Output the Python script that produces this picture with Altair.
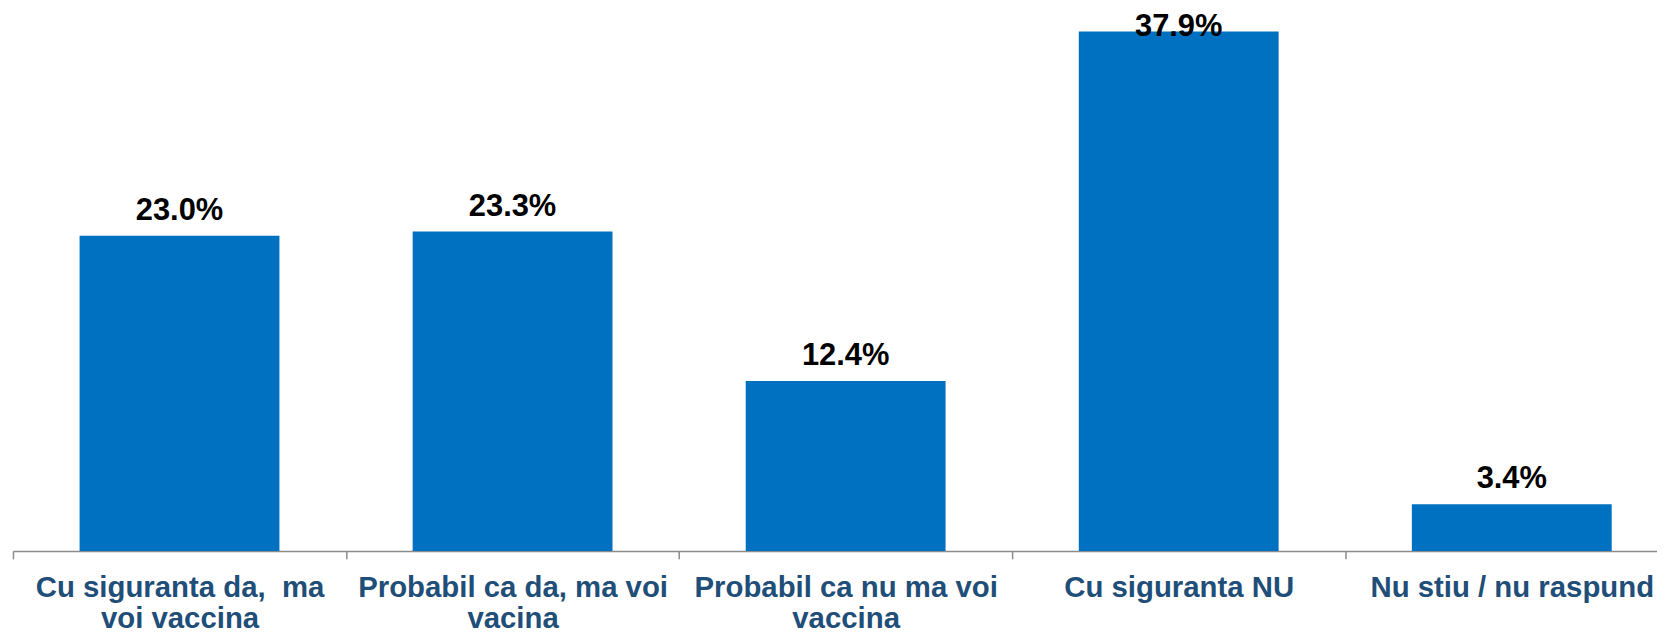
import json
import altair as alt
import pandas as pd

categories = [
    "Cu siguranta da,\u00a0 ma voi vaccina",
    "Probabil ca da, ma voi vacina",
    "Probabil ca nu ma voi vaccina",
    "Cu siguranta NU",
    "Nu stiu / nu raspund",
]
label_lines = [
    ["Cu siguranta da,\u00a0 ma", "voi vaccina"],
    ["Probabil ca da, ma voi", "vacina"],
    ["Probabil ca nu ma voi", "vaccina"],
    ["Cu siguranta NU"],
    ["Nu stiu / nu raspund"],
]
values = [23.0, 23.3, 12.4, 37.9, 3.4]
labels = ["23.0%", "23.3%", "12.4%", "37.9%", "3.4%"]
positions = [0, 1, 2, 3, 4]
tick_positions = [-0.5, 0.5, 1.5, 2.5, 3.5]

df = pd.DataFrame({"i": positions, "cat": categories, "v": values, "lab": labels})

x_scale = alt.Scale(domain=[-0.5, 4.436], nice=False, zero=False)
y_scale = alt.Scale(domain=[0, 39.5], nice=False)

FONT = "Liberation Sans"

tick_axis = alt.Axis(
    title=None,
    values=tick_positions,
    labels=False,
    grid=False,
    tickSize=8,
    tickWidth=1.5,
    tickColor="#8C8C8C",
    domainColor="#8C8C8C",
    domainWidth=1.5,
    orient="bottom",
)

label_axis = alt.Axis(
    title=None,
    values=positions,
    labelExpr=json.dumps(label_lines) + "[datum.value]",
    ticks=False,
    domain=False,
    grid=False,
    labelAngle=0,
    labelFont=FONT,
    labelFontWeight="bold",
    labelFontSize=29.5,
    labelColor="#1F4E79",
    labelLineHeight=31,
    labelPadding=23,
    labelBaseline="top",
    labelLimit=0,
    labelOverlap=False,
    labelFlush=False,
    orient="bottom",
)

bars = alt.Chart(df).transform_calculate(
    x0="datum.i - 0.3", x1="datum.i + 0.3"
).mark_bar(color="#0070C0").encode(
    x=alt.X("x0:Q", scale=x_scale, axis=tick_axis),
    x2="x1:Q",
    y=alt.Y("v:Q", scale=y_scale, axis=None),
    y2=alt.datum(0),
)

text = alt.Chart(df).transform_calculate(
    ly="min(datum.v, 36.4)"
).mark_text(
    font=FONT,
    fontWeight="bold",
    fontSize=31,
    color="#000000",
    baseline="alphabetic",
    dy=-16,
).encode(
    x=alt.X("i:Q", scale=x_scale, axis=label_axis),
    y=alt.Y("ly:Q", scale=y_scale, axis=None),
    text="lab:N",
)

chart = alt.layer(bars, text).resolve_axis(x="independent").properties(
    width=1652,
    height=544,
    autosize=alt.AutoSizeParams(type="none"),
    padding={"left": 5, "top": 0, "right": 0, "bottom": 81},
).configure_view(stroke=None)

chart.save("out.html", embed_options={"renderer": "svg", "actions": False})
